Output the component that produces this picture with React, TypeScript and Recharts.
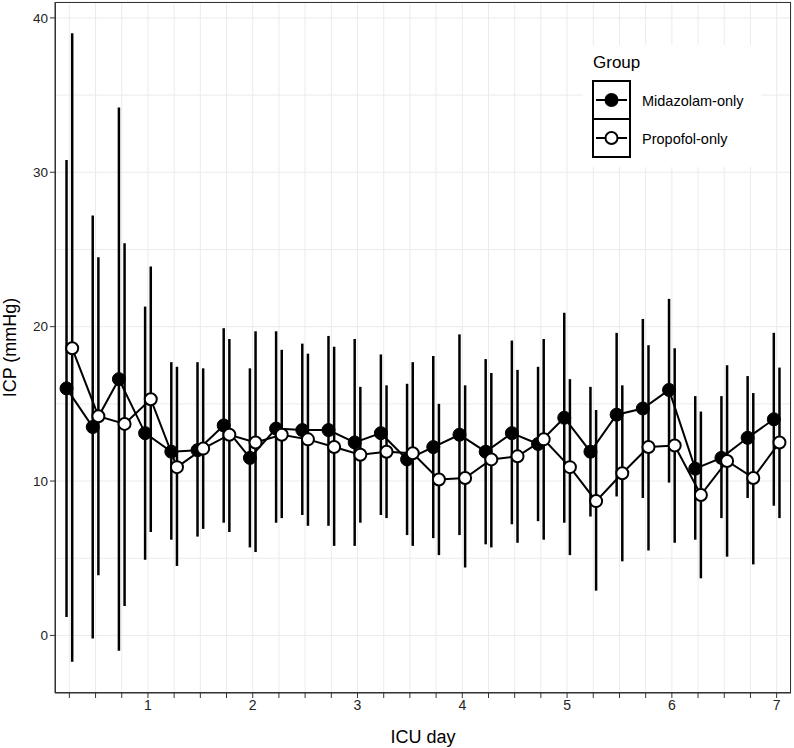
import { ComposedChart, Line, XAxis, YAxis, CartesianGrid, ErrorBar, ReferenceLine } from "recharts";

// ICU day (every 6 h)
const days = [0.25, 0.5, 0.75, 1, 1.25, 1.5, 1.75, 2, 2.25, 2.5, 2.75, 3, 3.25, 3.5, 3.75, 4, 4.25, 4.5, 4.75, 5, 5.25, 5.5, 5.75, 6, 6.25, 6.5, 6.75, 7];

const midMean = [16.0, 13.5, 16.6, 13.1, 11.9, 12.0, 13.6, 11.5, 13.4, 13.3, 13.3, 12.5, 13.1, 11.4, 12.2, 13.0, 11.9, 13.1, 12.4, 14.1, 11.9, 14.3, 14.7, 15.9, 10.8, 11.5, 12.8, 14.0];
const midLow = [1.2, -0.2, -1.0, 4.9, 6.2, 6.4, 7.3, 5.7, 7.3, 7.8, 7.1, 5.8, 7.8, 6.5, 6.3, 6.5, 5.9, 7.2, 7.4, 7.3, 7.7, 9.0, 8.9, 9.9, 6.2, 7.6, 8.9, 8.4];
const midHigh = [30.8, 27.2, 34.2, 21.3, 17.7, 17.7, 19.9, 17.3, 19.7, 18.9, 19.4, 19.2, 18.2, 16.3, 18.1, 19.5, 17.9, 19.1, 17.4, 20.9, 16.1, 19.6, 20.5, 21.8, 15.5, 15.5, 16.8, 19.6];

const propMean = [18.6, 14.2, 13.7, 15.3, 10.9, 12.1, 13.0, 12.5, 13.0, 12.7, 12.2, 11.7, 11.9, 11.8, 10.1, 10.2, 11.4, 11.6, 12.7, 10.9, 8.7, 10.5, 12.2, 12.3, 9.1, 11.3, 10.2, 12.5];
const propLow = [-1.7, 3.9, 1.9, 6.7, 4.5, 6.9, 6.7, 5.4, 7.6, 7.1, 5.8, 7.3, 7.6, 5.8, 5.2, 4.4, 5.7, 6.0, 6.2, 5.2, 2.9, 4.8, 5.5, 6.0, 3.7, 5.1, 4.6, 7.6];
const propHigh = [39.0, 24.5, 25.4, 23.9, 17.4, 17.3, 19.2, 19.7, 18.5, 18.25, 18.7, 16.1, 16.2, 17.7, 15.0, 16.2, 17.0, 17.2, 19.2, 16.6, 14.6, 16.2, 18.8, 18.6, 14.5, 17.5, 15.7, 17.35];

const xTicks = [0.25, 0.5, 0.75, 1, 1.25, 1.5, 1.75, 2, 2.25, 2.5, 2.75, 3, 3.25, 3.5, 3.75, 4, 4.25, 4.5, 4.75, 5, 5.25, 5.5, 5.75, 6, 6.25, 6.5, 6.75, 7];
const yTicks = [0, 10, 20, 30, 40];
const yMinor = [5, 15, 25, 35];
const groups = ["Midazolam-only", "Propofol-only"];

const dodge = 0.027;
const font = "'Liberation Sans', Arial, sans-serif";

const build = (mean: number[], low: number[], high: number[], shift: number) =>
  days.map((d, i) => ({ x: d + shift, y: mean[i], err: [mean[i] - low[i], high[i] - mean[i]] }));

const midData = build(midMean, midLow, midHigh, -dodge);
const propData = build(propMean, propLow, propHigh, dodge);

function LegendKey({ filled }: { filled: boolean }) {
  return (
    <svg width={35} height={36} style={{ display: "block" }}>
      <line x1={2} x2={33} y1={18} y2={18} stroke="#000" strokeWidth={2} />
      <circle cx={17.5} cy={18} r={6} fill={filled ? "#000" : "#fff"} stroke="#000" strokeWidth={2} />
    </svg>
  );
}

export default function App() {
  return (
    <div style={{ position: "absolute", left: 0, top: 0, width: 794, height: 748, background: "#fff", fontFamily: font }}>
      <ComposedChart width={794} height={748} margin={{ top: 2, right: 3, left: 0, bottom: 0 }}>
        <CartesianGrid stroke="#ebebeb" strokeWidth={1} />
        {yMinor.map((v) => (
          <ReferenceLine key={v} y={v} stroke="#ebebeb" strokeWidth={1} />
        ))}
        <XAxis
          type="number"
          dataKey="x"
          domain={[0.113, 7.137]}
          allowDataOverflow
          ticks={xTicks}
          interval={0}
          tickFormatter={(v: number) => (Number.isInteger(v) ? String(v) : "")}
          height={55}
          tickSize={5}
          tickLine={{ stroke: "#333" }}
          axisLine={{ stroke: "#333" }}
          tick={{ fill: "#222", fontSize: 14, fontFamily: font }}
          label={{ value: "ICU day", position: "insideBottom", offset: 5, fill: "#000", fontSize: 18, fontFamily: font }}
        />
        <YAxis
          type="number"
          domain={[-3.73, 41.03]}
          allowDataOverflow
          ticks={yTicks}
          width={55}
          tickSize={5}
          tickLine={{ stroke: "#333" }}
          axisLine={{ stroke: "#333" }}
          tick={{ fill: "#222", fontSize: 13.5, fontFamily: font }}
          label={{ value: "ICP (mmHg)", angle: -90, position: "insideLeft", offset: 10, style: { textAnchor: "middle" }, fill: "#000", fontSize: 18, fontFamily: font }}
        />
        {/* error bars first */}
        <Line data={midData} dataKey="y" stroke="none" dot={false} isAnimationActive={false} legendType="none">
          <ErrorBar dataKey="err" direction="y" width={0} stroke="#000" strokeWidth={2.5} />
        </Line>
        <Line data={propData} dataKey="y" stroke="none" dot={false} isAnimationActive={false} legendType="none">
          <ErrorBar dataKey="err" direction="y" width={0} stroke="#000" strokeWidth={2.5} />
        </Line>
        {/* connecting lines */}
        <Line data={midData} dataKey="y" type="linear" stroke="#000" strokeWidth={2} dot={false} isAnimationActive={false} name={groups[0]} />
        <Line data={propData} dataKey="y" type="linear" stroke="#000" strokeWidth={2} dot={false} isAnimationActive={false} name={groups[1]} />
        {/* points */}
        <Line data={midData} dataKey="y" stroke="none" dot={{ r: 6.5, fill: "#000", stroke: "#000", strokeWidth: 1 }} isAnimationActive={false} legendType="none" />
        <Line data={propData} dataKey="y" stroke="none" dot={{ r: 6, fill: "#fff", stroke: "#000", strokeWidth: 2 }} isAnimationActive={false} legendType="none" />
      </ComposedChart>

      {/* panel border */}
      <div style={{ position: "absolute", left: 55, top: 2, width: 736, height: 691, border: "1px solid #333", boxSizing: "border-box", pointerEvents: "none" }} />

      {/* legend */}
      <div style={{ position: "absolute", left: 583, top: 45, width: 178, height: 122, background: "#fff" }}>
        <div style={{ position: "absolute", left: 10, top: 8, fontSize: 17, color: "#000" }}>Group</div>
        <div style={{ position: "absolute", left: 9, top: 35, border: "2px solid #000", width: 35 }}>
          <div style={{ borderBottom: "2px solid #000" }}>
            <LegendKey filled />
          </div>
          <LegendKey filled={false} />
        </div>
        {groups.map((g, i) => (
          <div key={g} style={{ position: "absolute", left: 59, top: 48 + i * 38, fontSize: 14.5, color: "#000" }}>
            {g}
          </div>
        ))}
      </div>
    </div>
  );
}
